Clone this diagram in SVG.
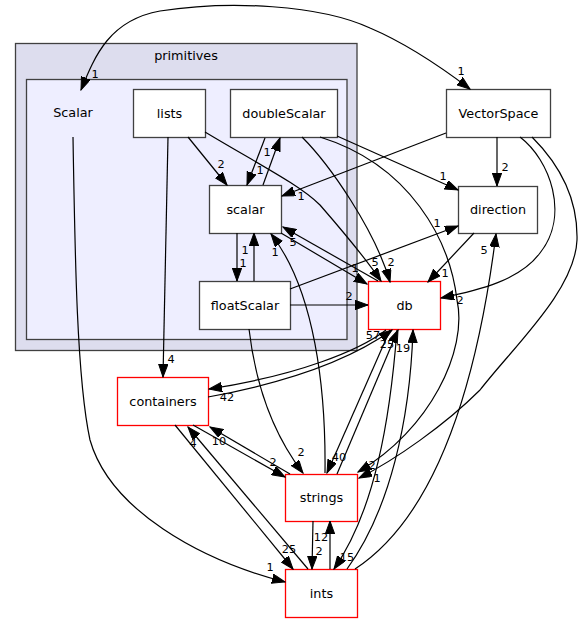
<svg xmlns="http://www.w3.org/2000/svg" width="582" height="623" viewBox="0 0 582 623">
<defs>
<style>
.n rect{fill:#fff;stroke:#404040;stroke-width:1.3}
.n.r rect{stroke:#ff0000}
.t{font-family:"DejaVu Sans",sans-serif;font-size:12.8px;text-anchor:middle;fill:#000}
.l{font-family:"DejaVu Sans",sans-serif;font-size:11.3px;text-anchor:middle;fill:#000}
.e path{fill:none;stroke:#000;stroke-width:1.2;marker-end:url(#a)}
.e path.b{marker-start:url(#a)}
</style>
<marker id="a" markerUnits="userSpaceOnUse" markerWidth="14" markerHeight="10" viewBox="0 0 14 10" refX="13" refY="4.7" orient="auto-start-reverse"><path d="M0,0 L13,4.7 L0,9.4z" fill="#000" stroke="#000" stroke-width="1"/></marker>
</defs>
<rect width="582" height="623" fill="#fff"/>
<g id="cluster_primitives">
<rect x="15.5" y="43.5" width="341.5" height="307" fill="#ddddee" stroke="#404040" stroke-width="1.3"/>
<text class="t" x="186" y="60">primitives</text>
<rect x="26.5" y="79.5" width="320.5" height="260" fill="#eeeeff" stroke="#404040" stroke-width="1.3"/>
</g>
<g id="node_Scalar"><text class="t" x="73" y="116.5">Scalar</text></g>
<g id="node_lists" class="n"><rect x="133.5" y="89.5" width="72" height="48"/><text class="t" x="169.5" y="117.5">lists</text></g>
<g id="node_doubleScalar" class="n"><rect x="230.5" y="89.5" width="107" height="48"/><text class="t" x="284" y="117.5">doubleScalar</text></g>
<g id="node_VectorSpace" class="n"><rect x="446.5" y="89.5" width="104" height="48"/><text class="t" x="498.5" y="117.5">VectorSpace</text></g>
<g id="node_scalar" class="n"><rect x="209.5" y="185.5" width="72" height="48"/><text class="t" x="245.5" y="213.5">scalar</text></g>
<g id="node_direction" class="n"><rect x="458.5" y="186.5" width="79" height="47"/><text class="t" x="498" y="214">direction</text></g>
<g id="node_floatScalar" class="n"><rect x="199.5" y="281.5" width="91" height="48"/><text class="t" x="245" y="309.5">floatScalar</text></g>
<g id="node_db" class="n r"><rect x="368.5" y="281.5" width="72" height="48"/><text class="t" x="404.5" y="309.5">db</text></g>
<g id="node_containers" class="n r"><rect x="117.5" y="377.5" width="91" height="48"/><text class="t" x="163" y="405.5">containers</text></g>
<g id="node_strings" class="n r"><rect x="285.5" y="474.5" width="72" height="47"/><text class="t" x="321.5" y="502">strings</text></g>
<g id="node_ints" class="n r"><rect x="285.5" y="569.5" width="72" height="48"/><text class="t" x="321.5" y="597.5">ints</text></g>
<g id="connectors" class="e">
<path class="b" d="M81,90 C95,55 110,20 160,11 C230,0 320,5 370,28 C410,45 445,70 470,89"/>
<path d="M73,137 C75,260 77,380 90,440 C110,510 200,560 285,582"/>
<path d="M188,137 L227,185"/>
<path d="M168,137 L163,377"/>
<path d="M205,132 C260,165 300,185 320,205 C340,228 364,256 381,281"/>
<path d="M281,233 L367,284"/>
<path d="M378,281 L283,227"/>
<path d="M265,138 L247,185"/>
<path d="M263,185 L280,138"/>
<path d="M302,137 C330,165 375,230 390,282"/>
<path d="M320,137 C410,165 450,240 457,300 C468,350 430,430 358,472"/>
<path d="M337,136 L458,190"/>
<path d="M446,133 L282,196"/>
<path d="M497,137 L497,186"/>
<path d="M520,137 C550,160 570,215 540,253 C520,280 480,290 441,298"/>
<path d="M532,137 C560,165 578,200 577,240 C575,290 515,345 480,390 C445,425 395,460 359,478"/>
<path d="M474,233 L428,282"/>
<path d="M290,305 L368,305"/>
<path d="M290,289 L458,226"/>
<path d="M254,281 L254,233"/>
<path d="M237,233 L237,281"/>
<path d="M249,329 C255,380 270,430 303,473"/>
<path d="M325,473 C326,390 315,290 271,234"/>
<path d="M390,330 L327,473"/>
<path d="M337,474 L398,330"/>
<path d="M208,397 C290,382 350,360 392,330"/>
<path d="M386,330 C360,350 300,375 209,389"/>
<path d="M193,425 L285,477"/>
<path d="M290,474 L210,427"/>
<path d="M175,425 L293,569"/>
<path d="M308,569 L188,427"/>
<path d="M313,521 L312,569"/>
<path d="M330,569 L330,521"/>
<path d="M397,330 C390,420 375,510 334,569"/>
<path d="M347,569 C390,510 410,420 413,330"/>
<path d="M355,569 C430,520 475,400 496,234"/>
</g>
<g id="labels">
<text class="l" x="95" y="78">1</text>
<text class="l" x="461" y="75">1</text>
<text class="l" x="270" y="571">1</text>
<text class="l" x="221" y="168">2</text>
<text class="l" x="171" y="363">4</text>
<text class="l" x="375" y="266">5</text>
<text class="l" x="355" y="272">1</text>
<text class="l" x="293" y="246">5</text>
<text class="l" x="260" y="174">1</text>
<text class="l" x="267" y="156">1</text>
<text class="l" x="391" y="266">2</text>
<text class="l" x="372" y="469">2</text>
<text class="l" x="443" y="180">1</text>
<text class="l" x="301" y="200">1</text>
<text class="l" x="505" y="171">2</text>
<text class="l" x="460" y="304">2</text>
<text class="l" x="377" y="482">1</text>
<text class="l" x="445" y="277">1</text>
<text class="l" x="349" y="300">2</text>
<text class="l" x="437" y="227">1</text>
<text class="l" x="245" y="254">1</text>
<text class="l" x="243" y="267">1</text>
<text class="l" x="301" y="456">2</text>
<text class="l" x="275" y="256">1</text>
<text class="l" x="339" y="461">40</text>
<text class="l" x="387" y="348">25</text>
<text class="l" x="373" y="339">57</text>
<text class="l" x="227" y="401">42</text>
<text class="l" x="273" y="466">2</text>
<text class="l" x="219" y="445">10</text>
<text class="l" x="289" y="553">25</text>
<text class="l" x="193" y="447">4</text>
<text class="l" x="319" y="555">2</text>
<text class="l" x="321" y="541">12</text>
<text class="l" x="347" y="561">15</text>
<text class="l" x="403" y="352">19</text>
<text class="l" x="484" y="254">5</text>
</g>
</svg>
